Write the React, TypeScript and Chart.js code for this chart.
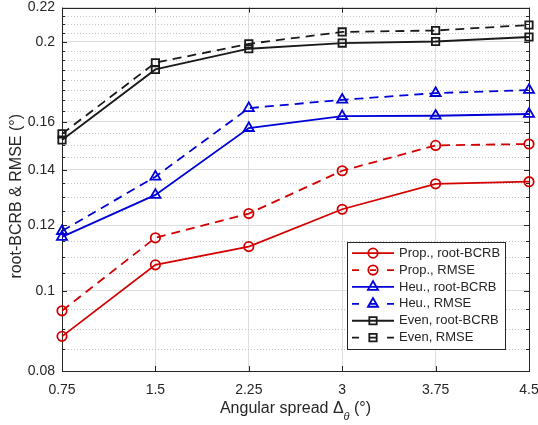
import React, { useEffect, useRef } from 'react';
import { Chart, registerables } from 'chart.js';

Chart.register(...registerables);

const FONT = "'Liberation Sans', Arial, Helvetica, sans-serif";
const AXIS_COLOR = '#262626';
const RED = '#d40000';
const BLUE = '#0000d8';
const BLACK = '#1a1a1a';

const xValues = [0.75, 1.5, 2.25, 3, 3.75, 4.5];
const xTickLabels = ['0.75', '1.5', '2.25', '3', '3.75', '4.5'];
const yMajorTicks = [0.08, 0.1, 0.12, 0.14, 0.16, 0.2, 0.22];
const yTickLabels = ['0.08', '0.1', '0.12', '0.14', '0.16', '0.2', '0.22'];
const yMinorTicks = [
  0.085, 0.09, 0.095, 0.105, 0.11, 0.115, 0.125, 0.13, 0.135, 0.145, 0.15, 0.155,
  0.165, 0.17, 0.175, 0.18, 0.185, 0.19, 0.195, 0.205, 0.21, 0.215,
];

const propBCRB = [0.0881, 0.1075, 0.1131, 0.1255, 0.1347, 0.1355];
const propRMSE = [0.0946, 0.1159, 0.124, 0.1397, 0.1499, 0.1505];
const heuBCRB = [0.1162, 0.1306, 0.1573, 0.1626, 0.1628, 0.1636];
const heuRMSE = [0.1181, 0.1374, 0.1663, 0.1702, 0.1734, 0.1749];
const evenBCRB = [0.1522, 0.1852, 0.1962, 0.1993, 0.2002, 0.2027];
const evenRMSE = [0.1548, 0.1887, 0.1989, 0.2056, 0.2064, 0.2096];

const DASH = [9, 6];

function makeSet(label: string, values: number[], color: string, style: string, dashed: boolean, radius: number) {
  return {
    label,
    data: xValues.map((x, i) => ({ x, y: values[i] })),
    borderColor: color,
    backgroundColor: 'rgba(0,0,0,0)',
    borderWidth: 1.8,
    borderDash: dashed ? DASH : [],
    pointStyle: style,
    pointRadius: radius,
    pointHoverRadius: radius,
    pointBorderWidth: 1.8,
    pointBorderColor: color,
    pointBackgroundColor: 'rgba(0,0,0,0)',
    tension: 0,
    clip: false as any,
  };
}

function drawMarker(ctx: CanvasRenderingContext2D, style: string, x: number, y: number, r: number) {
  ctx.beginPath();
  if (style === 'circle') {
    ctx.arc(x, y, r, 0, Math.PI * 2);
  } else if (style === 'triangle') {
    const w = r * Math.sqrt(3);
    ctx.moveTo(x, y - r);
    ctx.lineTo(x - w / 2, y + r / 2);
    ctx.lineTo(x + w / 2, y + r / 2);
    ctx.closePath();
  } else {
    const s = r * Math.SQRT1_2;
    ctx.rect(x - s, y - s, 2 * s, 2 * s);
  }
  ctx.stroke();
}

const framePlugin = {
  id: 'matlabFrame',
  beforeDatasetsDraw(chart: any) {
    const { ctx, chartArea: a, scales } = chart;
    const ys = scales.y;
    const xs = scales.x;
    ctx.save();
    // minor dotted grid
    ctx.strokeStyle = '#c4c4c4';
    ctx.lineWidth = 1;
    ctx.setLineDash([1, 2]);
    for (const v of yMinorTicks) {
      const py = Math.round(ys.getPixelForValue(v)) + 0.5;
      ctx.beginPath();
      ctx.moveTo(a.left, py);
      ctx.lineTo(a.right, py);
      ctx.stroke();
    }
    ctx.setLineDash([]);
    // frame box
    ctx.strokeStyle = AXIS_COLOR;
    ctx.lineWidth = 1;
    ctx.strokeRect(Math.round(a.left) + 0.5, Math.round(a.top) + 0.5, Math.round(a.right - a.left), Math.round(a.bottom - a.top));
    // inward ticks
    ctx.beginPath();
    for (const v of yMajorTicks) {
      const py = Math.round(ys.getPixelForValue(v)) + 0.5;
      ctx.moveTo(a.left, py); ctx.lineTo(a.left + 5, py);
      ctx.moveTo(a.right, py); ctx.lineTo(a.right - 5, py);
    }
    for (const v of yMinorTicks) {
      const py = Math.round(ys.getPixelForValue(v)) + 0.5;
      ctx.moveTo(a.left, py); ctx.lineTo(a.left + 3, py);
      ctx.moveTo(a.right, py); ctx.lineTo(a.right - 3, py);
    }
    for (const v of xValues) {
      const px = Math.round(xs.getPixelForValue(v)) + 0.5;
      ctx.moveTo(px, a.bottom); ctx.lineTo(px, a.bottom - 5);
      ctx.moveTo(px, a.top); ctx.lineTo(px, a.top + 5);
    }
    ctx.stroke();
    ctx.restore();
  },
  afterDraw(chart: any) {
    const { ctx, chartArea: a } = chart;
    ctx.save();
    const mainFont = `16px ${FONT}`;
    const subFont = `italic 11px ${FONT}`;

    // y-axis title
    ctx.save();
    ctx.translate(17, (a.top + a.bottom) / 2 + 7);
    ctx.rotate(-Math.PI / 2);
    ctx.fillStyle = AXIS_COLOR;
    ctx.font = mainFont;
    ctx.textAlign = 'center';
    ctx.textBaseline = 'middle';
    ctx.fillText('root-BCRB & RMSE (°)', 0, 0);
    ctx.restore();

    // x-axis title with subscript
    const cx = (a.left + a.right) / 2;
    const ty = a.bottom + 38;
    const t1 = 'Angular spread Δ';
    const t2 = 'θ';
    const t3 = ' (°)';
    ctx.font = mainFont;
    const w1 = ctx.measureText(t1).width;
    const w3 = ctx.measureText(t3).width;
    ctx.font = subFont;
    const w2 = ctx.measureText(t2).width;
    let sx = cx - (w1 + w2 + w3) / 2;
    ctx.fillStyle = AXIS_COLOR;
    ctx.textBaseline = 'middle';
    ctx.textAlign = 'left';
    ctx.font = mainFont;
    ctx.fillText(t1, sx, ty);
    sx += w1;
    ctx.font = subFont;
    ctx.fillText(t2, sx, ty + 8);
    sx += w2;
    ctx.font = mainFont;
    ctx.fillText(t3, sx, ty);

    // legend
    const sets = chart.data.datasets;
    const rowH = 16.9;
    const legFont = `13px ${FONT}`;
    ctx.font = legFont;
    let maxW = 0;
    for (const ds of sets) maxW = Math.max(maxW, ctx.measureText(ds.label).width);
    const boxW = 4.5 + 42 + 5 + maxW + 5.5;
    const boxH = sets.length * rowH + 5.3;
    const right = a.right - 23.5;
    const bottom = a.bottom - 22.5;
    const left = Math.round(right - boxW) + 0.5;
    const top = Math.round(bottom - boxH) + 0.5;
    ctx.fillStyle = '#ffffff';
    ctx.fillRect(left, top, Math.round(boxW), Math.round(boxH));
    ctx.strokeStyle = AXIS_COLOR;
    ctx.lineWidth = 1;
    ctx.strokeRect(left, top, Math.round(boxW), Math.round(boxH));
    sets.forEach((ds: any, i: number) => {
      const ry = top + 2.2 + rowH * (i + 0.5);
      const lx0 = left + 4.5;
      const lx1 = lx0 + 42;
      const mx = (lx0 + lx1) / 2;
      ctx.strokeStyle = ds.borderColor;
      ctx.lineWidth = 1.8;
      ctx.beginPath();
      if (ds.borderDash && ds.borderDash.length) {
        ctx.moveTo(lx0, ry); ctx.lineTo(lx0 + 7, ry);
        ctx.moveTo(mx - 3, ry); ctx.lineTo(mx + 3, ry);
        ctx.moveTo(lx1 - 7, ry); ctx.lineTo(lx1, ry);
      } else {
        ctx.moveTo(lx0, ry); ctx.lineTo(lx1, ry);
      }
      ctx.stroke();
      drawMarker(ctx, ds.pointStyle, mx, ry, ds.pointRadius);
      ctx.fillStyle = AXIS_COLOR;
      ctx.font = legFont;
      ctx.textAlign = 'left';
      ctx.textBaseline = 'middle';
      ctx.fillText(ds.label, lx1 + 5, ry);
    });
    ctx.restore();
  },
};

export default function App() {
  const ref = useRef<HTMLCanvasElement | null>(null);
  useEffect(() => {
    if (!ref.current) return;
    const chart = new Chart(ref.current, {
      type: 'line',
      data: {
        datasets: [
          makeSet('Prop., root-BCRB', propBCRB, RED, 'circle', false, 4.7),
          makeSet('Prop., RMSE', propRMSE, RED, 'circle', true, 4.7),
          makeSet('Heu., root-BCRB', heuBCRB, BLUE, 'triangle', false, 5.8),
          makeSet('Heu., RMSE', heuRMSE, BLUE, 'triangle', true, 5.8),
          makeSet('Even, root-BCRB', evenBCRB, BLACK, 'rect', false, 5.2),
          makeSet('Even, RMSE', evenRMSE, BLACK, 'rect', true, 5.2),
        ] as any,
      },
      options: {
        animation: false,
        responsive: false,
        maintainAspectRatio: false,
        layout: { padding: { top: 3, right: 9, left: 0, bottom: 0 } },
        plugins: {
          legend: { display: false },
          tooltip: { enabled: false },
        },
        scales: {
          x: {
            type: 'linear',
            min: 0.75,
            max: 4.5,
            afterBuildTicks: (s: any) => {
              s.ticks = xValues.map((v) => ({ value: v }));
            },
            afterFit: (s: any) => {
              s.height = 54;
              s.paddingLeft = 0;
              s.paddingRight = 0;
            },
            grid: { color: '#dedede', lineWidth: 1, drawTicks: false },
            border: { display: false },
            ticks: {
              autoSkip: false,
              maxRotation: 0,
              padding: 11,
              color: AXIS_COLOR,
              font: { family: FONT, size: 14 },
              callback: (v: any) => xTickLabels[xValues.indexOf(Number(v))] ?? '',
            },
            title: { display: false },
          },
          y: {
            type: 'logarithmic',
            min: 0.08,
            max: 0.22,
            afterBuildTicks: (s: any) => {
              s.ticks = yMajorTicks.map((v) => ({ value: v }));
            },
            afterFit: (s: any) => {
              s.width = 62;
              s.paddingTop = 0;
              s.paddingBottom = 0;
            },
            grid: { color: '#dedede', lineWidth: 1, drawTicks: false },
            border: { display: false },
            ticks: {
              autoSkip: false,
              padding: 7,
              color: AXIS_COLOR,
              font: { family: FONT, size: 14 },
              callback: (v: any) => yTickLabels[yMajorTicks.indexOf(Number(v))] ?? '',
            },
            title: { display: false },
          },
        },
      } as any,
      plugins: [framePlugin as any],
    });
    return () => chart.destroy();
  }, []);
  return (
    <div style={{ position: 'absolute', left: 0, top: 0, width: 538, height: 425, background: '#ffffff' }}>
      <canvas ref={ref} width={538} height={425} style={{ display: 'block' }} />
    </div>
  );
}
